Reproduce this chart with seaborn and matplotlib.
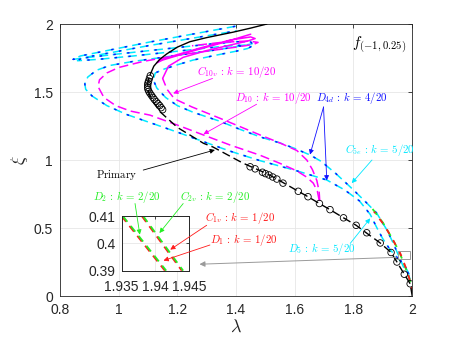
import numpy as np
import pandas as pd
import matplotlib
matplotlib.use("Agg")
import matplotlib.pyplot as plt
import seaborn as sns
from matplotlib.patches import Rectangle

# ---------------- data ----------------
# Primary backbone: unstable (dashed) part and stable (solid) part
prim_lo_lam = [2.0, 1.993, 1.973, 1.948, 1.928, 1.891, 1.84, 1.809, 1.766, 1.72, 1.684,
               1.641, 1.612, 1.539, 1.505, 1.436, 1.414, 1.322, 1.289, 1.2, 1.141, 1.12,
               1.105, 1.099, 1.10, 1.107]
prim_lo_xi = [0.0, 0.09, 0.16, 0.25, 0.32, 0.39, 0.47, 0.52, 0.575, 0.635, 0.68,
              0.735, 0.77, 0.86, 0.9, 0.965, 0.988, 1.095, 1.123, 1.24, 1.355, 1.42,
              1.48, 1.54, 1.58, 1.625]
prim_hi_lam = [1.107, 1.12, 1.14, 1.164, 1.2, 1.243, 1.3, 1.39, 1.45, 1.505]
prim_hi_xi = [1.625, 1.69, 1.74, 1.78, 1.83, 1.87, 1.9, 1.94, 1.97, 2.0]

# circle markers on the primary branch
circ_lam = [1.993, 1.973, 1.948, 1.928, 1.891, 1.845, 1.809, 1.766, 1.72, 1.684, 1.645,
            1.612, 1.56, 1.539, 1.525, 1.512, 1.5, 1.49, 1.465, 1.448,
            1.15, 1.145, 1.14, 1.134, 1.128, 1.122, 1.117, 1.112, 1.107, 1.103,
            1.100, 1.099, 1.099, 1.100, 1.102, 1.105, 1.108]
circ_xi = [0.09, 0.16, 0.25, 0.32, 0.39, 0.465, 0.52, 0.575, 0.635, 0.68, 0.73,
           0.77, 0.83, 0.86, 0.875, 0.89, 0.9, 0.91, 0.935, 0.95,
           1.37, 1.385, 1.40, 1.415, 1.43, 1.445, 1.46, 1.475, 1.49, 1.505,
           1.52, 1.535, 1.55, 1.565, 1.58, 1.60, 1.62]

# Cyan branch C5e (outer S)
c5e_lam = [1.99, 1.975, 1.95, 1.925, 1.9, 1.88, 1.857, 1.82, 1.77, 1.709, 1.6, 1.482,
           1.38, 1.289, 1.2, 1.107, 1.027, 0.96, 0.91, 0.888, 0.885, 0.895, 0.925, 0.97,
           1.05, 1.15, 1.25, 1.35, 1.42, 1.455, 1.45, 1.4, 1.3, 1.15, 1.0, 0.9, 0.845,
           0.87, 0.95, 1.1, 1.25, 1.402]
c5e_xi = [0.16, 0.22, 0.28, 0.34, 0.42, 0.5, 0.6, 0.7, 0.78, 0.853, 0.925, 0.995,
          1.065, 1.135, 1.205, 1.275, 1.335, 1.4, 1.47, 1.52, 1.56, 1.61, 1.66, 1.695,
          1.725, 1.755, 1.785, 1.815, 1.84, 1.855, 1.868, 1.87, 1.85, 1.815, 1.78, 1.755,
          1.74, 1.765, 1.8, 1.865, 1.925, 1.985]
# Cyan branch D5 (inner S)
d5_lam = [1.993, 1.986, 1.97, 1.953, 1.935, 1.914, 1.879, 1.833, 1.79, 1.74, 1.69, 1.652,
          1.6, 1.55, 1.482, 1.414, 1.345, 1.255, 1.2, 1.16, 1.13, 1.118, 1.125, 1.15,
          1.2, 1.254, 1.33, 1.4, 1.44, 1.452, 1.43, 1.35, 1.2, 1.05, 0.93, 0.86, 0.875,
          0.95, 1.1, 1.25, 1.402]
d5_xi = [0.12, 0.17, 0.215, 0.3, 0.39, 0.485, 0.61, 0.71, 0.8, 0.9, 0.99, 1.037,
         1.085, 1.125, 1.17, 1.225, 1.285, 1.35, 1.4, 1.46, 1.53, 1.59, 1.64, 1.665,
         1.70, 1.735, 1.77, 1.80, 1.82, 1.835, 1.845, 1.835, 1.80, 1.765, 1.74, 1.73, 1.75,
         1.78, 1.84, 1.895, 1.95]
# Blue branch D4d (coincides with the cyan branches)
d4d_a_lam = c5e_lam
d4d_a_xi = c5e_xi
d4d_b_lam = d5_lam
d4d_b_xi = d5_xi

# Magenta branch C10v: dashed lower part, solid upper part
c10_lo_lam = [1.685, 1.683, 1.675, 1.66, 1.641, 1.607, 1.55, 1.482, 1.414, 1.345, 1.25,
              1.19, 1.165, 1.15]
c10_lo_xi = [0.70, 0.77, 0.85, 0.93, 1.0, 1.07, 1.125, 1.184, 1.245, 1.307, 1.39,
             1.45, 1.52, 1.60]
c10_hi_lam = [1.15, 1.17, 1.22, 1.3, 1.38, 1.44, 1.465, 1.45, 1.38, 1.28, 1.2, 1.14,
              1.13, 1.15, 1.25, 1.35, 1.45]
c10_hi_xi = [1.60, 1.69, 1.755, 1.805, 1.845, 1.875, 1.893, 1.905, 1.882, 1.825, 1.775,
             1.735, 1.715, 1.735, 1.80, 1.86, 1.925]
# Magenta branch D10
d10_lam = [1.683, 1.677, 1.663, 1.64, 1.607, 1.55, 1.482, 1.38, 1.289, 1.2, 1.107, 1.04,
           0.99, 0.95, 0.93, 0.935, 0.96, 1.0, 1.084, 1.2, 1.3, 1.4, 1.46, 1.475, 1.44,
           1.35, 1.25]
d10_xi = [0.706, 0.77, 0.83, 0.875, 0.92, 0.975, 1.035, 1.11, 1.184, 1.257, 1.33, 1.36,
          1.40, 1.46, 1.54, 1.59, 1.64, 1.68, 1.725, 1.77, 1.80, 1.83, 1.85, 1.865, 1.875,
          1.865, 1.84]
# Green (C2v, D2) and red (C1v, D1) branches near lambda = 2
grn_lam = [1.865, 1.9, 1.93, 1.955, 1.975, 1.99, 1.998]
grn_xi = [0.64, 0.54, 0.43, 0.33, 0.22, 0.13, 0.06]
red_lam = [1.87, 1.905, 1.935, 1.96, 1.978, 1.993, 2.0]
red_xi = [0.62, 0.52, 0.41, 0.31, 0.21, 0.11, 0.04]

# Inset (zoom) data
ins1_lam = [1.935, 1.9414]
ins1_xi = [0.41, 0.39]
ins2_lam = [1.938, 1.9439]
ins2_xi = [0.41, 0.39]

# ---------------- styling ----------------
sns.set_style("whitegrid")
plt.rcParams['font.family'] = ['Liberation Sans', 'DejaVu Sans']
plt.rcParams['mathtext.fontset'] = 'cm'

MAG = '#ff00ff'
CYA = '#00e8ff'
BLU = '#1010ff'
GRN = '#22ee22'
RED = '#ff1a1a'

fig = plt.figure(figsize=(4.57, 3.43), dpi=100)
ax = fig.add_axes([0.131, 0.137, 0.771, 0.793])

def curve(a, lam, xi, color, ls, lw=1.1, z=2):
    df = pd.DataFrame({'lam': lam, 'xi': xi})
    sns.lineplot(data=df, x='lam', y='xi', sort=False, estimator=None, ax=ax,
                 color=color, linestyle=ls, lw=lw, zorder=z)

DASH = (0, (6, 3))
curve(ax, c5e_lam, c5e_xi, CYA, DASH)
curve(ax, d5_lam, d5_xi, CYA, DASH)
curve(ax, d4d_a_lam, d4d_a_xi, BLU, (5, (1.5, 7.5)), lw=1.1)
curve(ax, d4d_b_lam, d4d_b_xi, BLU, (5, (1.5, 7.5)), lw=1.1)
curve(ax, d10_lam, d10_xi, MAG, DASH)
curve(ax, c10_lo_lam, c10_lo_xi, MAG, DASH)
curve(ax, c10_hi_lam, c10_hi_xi, MAG, '-')
curve(ax, grn_lam, grn_xi, GRN, (0, (4, 3)), lw=1.3)
curve(ax, red_lam, red_xi, RED, (2, (3, 4)), lw=1.3)
curve(ax, prim_lo_lam, prim_lo_xi, 'black', DASH, lw=1.0, z=3)
curve(ax, prim_hi_lam, prim_hi_xi, 'black', '-', lw=1.0, z=3)

sns.scatterplot(x=circ_lam, y=circ_xi, ax=ax, marker='o', s=22, facecolor='none',
                edgecolor='black', linewidth=0.6, zorder=4)
ax.collections[-1].set_facecolor('none')

ax.set_xlim(0.8, 2.0)
ax.set_ylim(0, 2)
ax.set_xticks([0.8, 1, 1.2, 1.4, 1.6, 1.8, 2])
ax.set_xticklabels(['0.8', '1', '1.2', '1.4', '1.6', '1.8', '2'])
ax.set_yticks([0, 0.5, 1, 1.5, 2])
ax.set_yticklabels(['0', '0.5', '1', '1.5', '2'])
ax.tick_params(direction='in', length=3, width=0.6, labelsize=10, colors='#262626',
               top=True, right=True)
ax.tick_params(axis='x', pad=5)
ax.tick_params(axis='y', pad=5)
ax.grid(True, color='#e6e6e6', lw=0.6)
for s in ax.spines.values():
    s.set_color('#262626')
    s.set_linewidth(0.6)
ax.set_xlabel(r'$\lambda$', fontsize=13, labelpad=1)
ax.set_ylabel(r'$\xi$', fontsize=13, labelpad=3)

# small gray box + arrow to the inset
ax.add_patch(Rectangle((1.95, 0.27), 0.043, 0.06, fill=False, ec='#9a9a9a', lw=0.7, zorder=5))
ax.annotate('', xy=(1.266, 0.233), xytext=(1.955, 0.285),
            arrowprops=dict(arrowstyle='-|>', color='#9a9a9a', lw=0.7, mutation_scale=8))

def arrow(a, tip, start, color, tc=None):
    kw = {}
    if tc is not None:
        kw['textcoords'] = tc
    a.annotate('', xy=tip, xytext=start, annotation_clip=False,
               arrowprops=dict(arrowstyle='-|>', color=color, lw=0.6, mutation_scale=7,
                               shrinkA=0, shrinkB=0), **kw)

FS = 7.8
ax.text(1.795, 1.84, r'$f_{(-1,0.25)}$', fontsize=11, ha='left', va='center', color='black')

ax.text(1.266, 1.65, r'$C_{10v}\,:\,k\,=\,10/20$', color=MAG, fontsize=FS, ha='left', va='center')
arrow(ax, (1.186, 1.49), (1.32, 1.60), MAG)
ax.text(1.396, 1.454, r'$D_{10}\,:\,k\,=\,10/20$', color=MAG, fontsize=FS, ha='left', va='center')
arrow(ax, (1.289, 1.19), (1.47, 1.41), MAG)
ax.text(1.672, 1.454, r'$D_{4d}\,:\,k\,=\,4/20$', color=BLU, fontsize=FS, ha='left', va='center')
arrow(ax, (1.652, 1.04), (1.698, 1.39), BLU)
arrow(ax, (1.709, 0.85), (1.698, 1.39), BLU)
ax.text(1.772, 1.07, r'$C_{5e}\,:\,k\,=\,5/20$', color=CYA, fontsize=FS, ha='left', va='center')
arrow(ax, (1.794, 0.83), (1.863, 1.0), CYA)
ax.text(1.578, 0.345, r'$D_{5}\,:\,k\,=\,5/20$', color=CYA, fontsize=FS, ha='left', va='center')
arrow(ax, (1.857, 0.571), (1.789, 0.387), CYA)
ax.text(0.993, 0.89, r'$\mathrm{Primary}$', color='black', fontsize=FS, ha='center', va='center')
arrow(ax, (1.328, 1.074), (1.084, 0.926), 'black')

ax.text(0.913, 0.73, r'$D_{2}\,:\,k\,=\,2/20$', color=GRN, fontsize=FS, ha='left', va='center')
ax.text(1.209, 0.73, r'$C_{2v}\,:\,k\,=\,2/20$', color=GRN, fontsize=FS, ha='left', va='center')
ax.text(1.294, 0.57, r'$C_{1v}\,:\,k\,=\,1/20$', color=RED, fontsize=FS, ha='left', va='center')
ax.text(1.311, 0.41, r'$D_{1}\,:\,k\,=\,1/20$', color=RED, fontsize=FS, ha='left', va='center')

# ---------------- inset ----------------
ins = fig.add_axes([0.266, 0.211, 0.148, 0.159])
ins.set_facecolor('white')

def icurve(lam, xi, color, ls):
    df = pd.DataFrame({'lam': lam, 'xi': xi})
    sns.lineplot(data=df, x='lam', y='xi', sort=False, estimator=None, ax=ins,
                 color=color, linestyle=ls, lw=1.3)

icurve(ins1_lam, ins1_xi, RED, (0, (4, 3)))
icurve([v + 0.0002 for v in ins1_lam], ins1_xi, GRN, (0, (4, 3)))
icurve(ins2_lam, ins2_xi, RED, (0, (4, 3)))
icurve([v + 0.0002 for v in ins2_lam], ins2_xi, GRN, (0, (4, 3)))
ins.set_xlim(1.935, 1.945)
ins.set_ylim(0.39, 0.41)
ins.set_xticks([1.935, 1.94, 1.945])
ins.set_xticklabels(['1.935', '1.94', '1.945'])
ins.set_yticks([0.39, 0.4, 0.41])
ins.set_yticklabels(['0.39', '0.4', '0.41'])
ins.set_xlabel('')
ins.set_ylabel('')
ins.tick_params(direction='in', length=2, width=0.6, labelsize=10, colors='#262626',
                top=True, right=True)
ins.tick_params(axis='x', pad=7)
ins.tick_params(axis='y', pad=4.5)
ins.grid(True, color='#e6e6e6', lw=0.6)
for s in ins.spines.values():
    s.set_color('#262626')
    s.set_linewidth(0.7)

arrow(ins, (1.9377, 0.4032), (1.056, 0.68), GRN, tc=ax.transData)
arrow(ins, (1.9406, 0.4038), (1.22, 0.68), GRN, tc=ax.transData)
arrow(ins, (1.9422, 0.3977), (1.30, 0.52), RED, tc=ax.transData)
arrow(ins, (1.9412, 0.3937), (1.311, 0.375), RED, tc=ax.transData)

fig.savefig('out.png', dpi=100)
